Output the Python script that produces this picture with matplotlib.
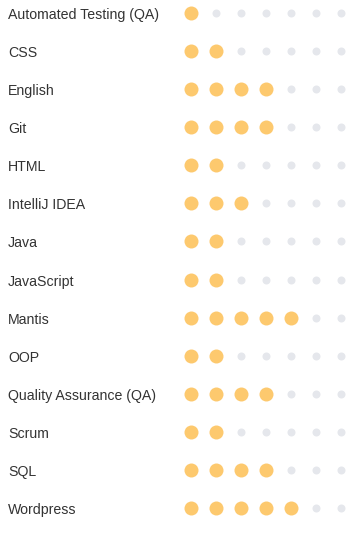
import matplotlib
matplotlib.use("Agg")
import matplotlib.pyplot as plt

skills = ["Automated Testing (QA)", "CSS", "English", "Git", "HTML", "IntelliJ IDEA",
          "Java", "JavaScript", "Mantis", "OOP", "Quality Assurance (QA)", "Scrum",
          "SQL", "Wordpress"]
levels = [1, 2, 4, 4, 2, 3, 2, 2, 5, 2, 4, 2, 4, 5]
max_level = 7

W, H = 363, 539
fig = plt.figure(figsize=(W / 100, H / 100), dpi=100)
ax = fig.add_axes([0, 0, 1, 1])
ax.set_xlim(0, W)
ax.set_ylim(H, 0)
ax.axis("off")

x0, dx = 191, 25
y0, dy = 13, 38.08
fill_c = "#FDC96E"
empty_c = "#E5E7EC"

for j, (name, lv) in enumerate(zip(skills, levels)):
    y = y0 + dy * j
    ax.text(8, y + 6, name, fontsize=10.2, family="Liberation Sans", color="#333333",
            va="baseline", ha="left")
    fx = [x0 + dx * i for i in range(lv)]
    ex = [x0 + dx * i for i in range(lv, max_level)]
    ax.scatter(fx, [y] * len(fx), s=(14 * 0.72) ** 2, color=fill_c, linewidths=0)
    ax.scatter(ex, [y] * len(ex), s=(8 * 0.72) ** 2, color=empty_c, linewidths=0)

fig.savefig("out.png", dpi=100)
